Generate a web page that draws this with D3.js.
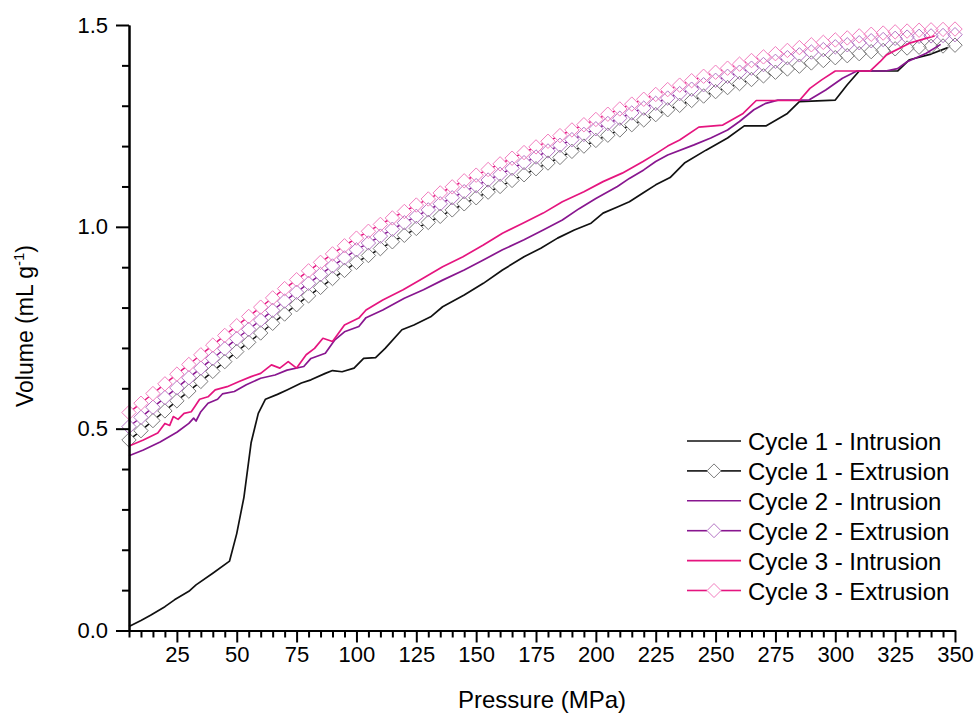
<!DOCTYPE html>
<html>
<head>
<meta charset="utf-8">
<script src="https://cdn.jsdelivr.net/npm/d3@7/dist/d3.min.js"></script>
<style>
  html, body { margin: 0; padding: 0; background: #fff; }
  svg { display: block; }
  text { font-family: "Liberation Sans", Arial, sans-serif; fill: #000; }
</style>
</head>
<body>
<svg id="chart" width="976" height="717"></svg>
<script>
// Pressure steps of the extrusion (depressurisation) branches, MPa
const extrusionPressure = [5, 10, 15, 20, 25, 30, 35, 40, 45, 50, 55, 60, 65, 70, 75, 80, 85, 90, 95, 100,
  105, 110, 115, 120, 125, 130, 135, 140, 145, 150, 155, 160, 165, 170, 175, 180, 185, 190, 195, 200,
  205, 210, 215, 220, 225, 230, 235, 240, 245, 250, 255, 260, 265, 270, 275, 280, 285, 290, 295, 300,
  305, 310, 315, 320, 325, 330, 335, 340, 345, 350];

// Extrusion volumes, mL/g
const cycle1Extrusion = [0.472, 0.495, 0.520, 0.544, 0.569, 0.593, 0.617, 0.642, 0.666, 0.691, 0.714, 0.737, 0.761, 0.784, 0.807, 0.829, 0.850, 0.872, 0.892, 0.912,
  0.929, 0.946, 0.963, 0.979, 0.996, 1.011, 1.026, 1.042, 1.057, 1.072, 1.086, 1.100, 1.115, 1.129, 1.144, 1.158, 1.172, 1.187, 1.200, 1.214,
  1.227, 1.240, 1.253, 1.265, 1.278, 1.290, 1.301, 1.313, 1.324, 1.335, 1.345, 1.355, 1.365, 1.374, 1.383, 1.391, 1.398, 1.406, 1.412, 1.419,
  1.424, 1.429, 1.434, 1.437, 1.441, 1.443, 1.445, 1.447, 1.448, 1.450];
const cycle2Extrusion = [0.505, 0.528, 0.553, 0.577, 0.601, 0.626, 0.650, 0.674, 0.698, 0.723, 0.746, 0.769, 0.793, 0.816, 0.838, 0.860, 0.882, 0.903, 0.923, 0.943,
  0.960, 0.977, 0.994, 1.010, 1.026, 1.042, 1.057, 1.072, 1.087, 1.102, 1.116, 1.130, 1.145, 1.159, 1.173, 1.188, 1.202, 1.216, 1.229, 1.243,
  1.256, 1.269, 1.282, 1.294, 1.306, 1.319, 1.330, 1.341, 1.352, 1.363, 1.373, 1.383, 1.393, 1.402, 1.410, 1.419, 1.426, 1.433, 1.439, 1.446,
  1.451, 1.456, 1.461, 1.464, 1.467, 1.470, 1.472, 1.473, 1.474, 1.476];
const cycle3Extrusion = [0.540, 0.563, 0.587, 0.611, 0.635, 0.659, 0.683, 0.707, 0.731, 0.755, 0.778, 0.801, 0.824, 0.847, 0.869, 0.891, 0.912, 0.933, 0.953, 0.972,
  0.989, 1.006, 1.022, 1.038, 1.054, 1.069, 1.084, 1.099, 1.114, 1.128, 1.142, 1.156, 1.170, 1.184, 1.198, 1.212, 1.226, 1.240, 1.253, 1.266,
  1.279, 1.292, 1.304, 1.316, 1.328, 1.340, 1.351, 1.362, 1.373, 1.383, 1.393, 1.403, 1.412, 1.421, 1.429, 1.437, 1.444, 1.451, 1.457, 1.463,
  1.468, 1.473, 1.477, 1.480, 1.483, 1.485, 1.487, 1.488, 1.489, 1.490];

// Intrusion branches: [pressure MPa, volume mL/g]
const cycle1Intrusion = [[5, 0.010], [10, 0.025], [14, 0.038], [20, 0.059], [24, 0.076], [30, 0.097], [33, 0.113], [40, 0.142], [47, 0.172],
  [50, 0.240], [53, 0.330], [56, 0.465], [59, 0.538], [62, 0.573], [67, 0.585], [71, 0.596], [77, 0.613], [81, 0.621], [87, 0.637],
  [90, 0.644], [94, 0.641], [99, 0.650], [103, 0.674], [108, 0.676], [112, 0.699], [119, 0.745], [124, 0.757], [131, 0.777], [136, 0.802],
  [145, 0.831], [153, 0.860], [161, 0.893], [170, 0.926], [177, 0.947], [184, 0.972], [191, 0.992], [198, 1.009], [203, 1.034], [209, 1.049],
  [214, 1.062], [220, 1.085], [225, 1.104], [231, 1.122], [237, 1.158], [246, 1.190], [255, 1.220], [262, 1.250], [271, 1.250], [280, 1.281],
  [285, 1.310], [300, 1.314], [305, 1.352], [310, 1.386], [326, 1.386], [331, 1.414], [340, 1.428], [347, 1.444]];
const cycle2Intrusion = [[5, 0.433], [11, 0.447], [18, 0.467], [25, 0.491], [30, 0.513], [32, 0.526], [33, 0.519], [35, 0.542], [38, 0.563],
  [42, 0.573], [44, 0.586], [49, 0.592], [54, 0.609], [60, 0.625], [66, 0.633], [71, 0.645], [78, 0.654], [81, 0.674], [87, 0.687],
  [91, 0.720], [95, 0.740], [101, 0.753], [104, 0.775], [111, 0.794], [120, 0.823], [128, 0.844], [136, 0.868], [145, 0.893], [153, 0.918],
  [161, 0.943], [170, 0.968], [178, 0.992], [186, 1.017], [193, 1.045], [200, 1.070], [209, 1.100], [214, 1.120], [220, 1.141], [225, 1.162],
  [230, 1.178], [241, 1.203], [248, 1.220], [255, 1.240], [260, 1.261], [266, 1.290], [271, 1.306], [276, 1.314], [289, 1.314], [296, 1.339],
  [303, 1.368], [309, 1.386], [321, 1.386], [326, 1.392], [330, 1.409], [335, 1.422], [338, 1.430], [344, 1.452]];
const cycle3Intrusion = [[5, 0.457], [11, 0.472], [17, 0.489], [20, 0.513], [22, 0.508], [23.5, 0.530], [25.5, 0.523], [28, 0.538], [31, 0.542],
  [32.5, 0.555], [34.5, 0.573], [38, 0.579], [41, 0.596], [46, 0.604], [51, 0.617], [56, 0.629], [60, 0.637], [64.5, 0.658], [68, 0.650],
  [71.5, 0.666], [75, 0.650], [79, 0.683], [82.5, 0.699], [86, 0.724], [90, 0.716], [95, 0.757], [101, 0.774], [104, 0.794], [111, 0.819],
  [119.5, 0.844], [128, 0.873], [136, 0.901], [144.5, 0.926], [153, 0.955], [161, 0.984], [169.5, 1.009], [178, 1.034], [186, 1.062], [195, 1.087],
  [203, 1.112], [211, 1.133], [219.7, 1.162], [225.3, 1.182], [230, 1.200], [235, 1.215], [243, 1.247], [253, 1.252], [261.5, 1.281], [267, 1.313],
  [285, 1.313], [289.4, 1.343], [294.3, 1.364], [300, 1.386], [314.5, 1.386], [318.7, 1.409], [321.4, 1.426], [331, 1.455], [341.5, 1.473]];

// Axis ticks
const xMajorTicks = [25, 50, 75, 100, 125, 150, 175, 200, 225, 250, 275, 300, 325, 350];
const xMinorTicks = [5, 10, 15, 20, 30, 35, 40, 45, 55, 60, 65, 70, 80, 85, 90, 95, 105, 110, 115, 120, 130, 135, 140, 145,
  155, 160, 165, 170, 180, 185, 190, 195, 205, 210, 215, 220, 230, 235, 240, 245, 255, 260, 265, 270, 280, 285, 290, 295,
  305, 310, 315, 320, 330, 335, 340, 345];
const yMajorTicks = [0, 0.5, 1.0, 1.5];
const yMinorTicks = [0.1, 0.2, 0.3, 0.4, 0.6, 0.7, 0.8, 0.9, 1.1, 1.2, 1.3, 1.4];

const seriesNames = ["Cycle 1 - Intrusion", "Cycle 1 - Extrusion", "Cycle 2 - Intrusion",
  "Cycle 2 - Extrusion", "Cycle 3 - Intrusion", "Cycle 3 - Extrusion"];

const svg = d3.select("#chart");
const x = d3.scaleLinear().domain([5, 350]).range([129, 955]);
const y = d3.scaleLinear().domain([0, 1.5]).range([630.5, 25]);

const colors = {
  c1: { line: "#111111", sym: "#7a7a7a" },
  c2: { line: "#88168f", sym: "#b474c4" },
  c3: { line: "#e5157f", sym: "#f27cbe" }
};

const R = 7.2; // diamond half-diagonal, px
const diamond = r => `M0,${-r}L${r},0L0,${r}L${-r},0Z`;
const line = d3.line().x(d => x(d[0])).y(d => y(d[1]));

const series = [
  { type: "line", data: cycle1Intrusion, c: colors.c1 },
  { type: "sym", values: cycle1Extrusion, c: colors.c1 },
  { type: "line", data: cycle2Intrusion, c: colors.c2 },
  { type: "sym", values: cycle2Extrusion, c: colors.c2 },
  { type: "line", data: cycle3Intrusion, c: colors.c3 },
  { type: "sym", values: cycle3Extrusion, c: colors.c3 }
];

const plot = svg.append("g");
series.forEach(s => {
  if (s.type === "line") {
    plot.append("path").datum(s.data)
      .attr("d", line).attr("fill", "none")
      .attr("stroke", s.c.line).attr("stroke-width", 1.7)
      .attr("stroke-linejoin", "round");
  } else {
    const pts = extrusionPressure.map((p, i) => [x(p), y(s.values[i])]);
    // connecting line, broken where it passes through a symbol
    const segs = [];
    for (let i = 0; i < pts.length - 1; i++) {
      const [x0, y0] = pts[i], [x1, y1] = pts[i + 1];
      const len = Math.hypot(x1 - x0, y1 - y0);
      const ux = (x1 - x0) / len, uy = (y1 - y0) / len;
      const edge = R / (Math.abs(ux) + Math.abs(uy));
      if (len > 2 * edge) {
        segs.push([[x0 + ux * edge, y0 + uy * edge], [x1 - ux * edge, y1 - uy * edge]]);
      }
    }
    plot.append("g").selectAll("line").data(segs).join("line")
      .attr("x1", d => d[0][0]).attr("y1", d => d[0][1])
      .attr("x2", d => d[1][0]).attr("y2", d => d[1][1])
      .attr("stroke", s.c.line).attr("stroke-width", 1.5);
    plot.append("g").selectAll("path").data(pts).join("path")
      .attr("transform", d => `translate(${d[0]},${d[1]})`)
      .attr("d", diamond(R))
      .attr("fill", "none").attr("stroke", s.c.sym).attr("stroke-width", 1);
  }
});

// Axes
function styleAxis(g) {
  g.selectAll("path.domain").attr("stroke", "#000").attr("stroke-width", 2);
  g.selectAll(".tick line").attr("stroke", "#000").attr("stroke-width", 2);
  g.selectAll(".tick text").style("font-family", '"Liberation Sans", Arial, sans-serif')
    .style("font-size", "22px").attr("fill", "#000");
}

const xAxisMinor = d3.axisBottom(x).tickValues(xMinorTicks).tickSize(7).tickSizeOuter(0).tickFormat("");
const xAxisMajor = d3.axisBottom(x).tickValues(xMajorTicks).tickSize(12).tickSizeOuter(0).tickPadding(4).tickFormat(d3.format("d"));
svg.append("g").attr("transform", "translate(0,630.5)").call(xAxisMinor).call(styleAxis);
svg.append("g").attr("transform", "translate(0,630.5)").call(xAxisMajor).call(styleAxis);

const yAxisMinor = d3.axisLeft(y).tickValues(yMinorTicks).tickSize(7).tickSizeOuter(0).tickFormat("");
const yAxisMajor = d3.axisLeft(y).tickValues(yMajorTicks).tickSize(13).tickSizeOuter(0).tickPadding(8).tickFormat(d3.format(".1f"));
svg.append("g").attr("transform", "translate(129,0)").call(yAxisMinor).call(styleAxis);
svg.append("g").attr("transform", "translate(129,0)").call(yAxisMajor).call(styleAxis);

// Axis titles
svg.append("text").attr("x", (x(5) + x(350)) / 2).attr("y", 708)
  .attr("text-anchor", "middle").style("font-size", "24px").text("Pressure (MPa)");

const yTitle = svg.append("text")
  .attr("transform", "translate(33,326) rotate(-90)")
  .attr("text-anchor", "middle").style("font-size", "23px");
yTitle.append("tspan").text("Volume (mL g");
yTitle.append("tspan").attr("dy", -9).style("font-size", "15px").text("-1");
yTitle.append("tspan").attr("dy", 9).text(")");

// Legend
const legend = svg.append("g").attr("transform", "translate(687,441)");
const legendColors = [colors.c1, colors.c1, colors.c2, colors.c2, colors.c3, colors.c3];
seriesNames.forEach((name, i) => {
  const row = legend.append("g").attr("transform", `translate(0,${i * 29.9})`);
  const c = legendColors[i];
  if (i % 2 === 0) {
    row.append("line").attr("x1", 0).attr("x2", 54).attr("y1", 0).attr("y2", 0)
      .attr("stroke", c.line).attr("stroke-width", 1.6);
  } else {
    row.append("line").attr("x1", 0).attr("x2", 20).attr("y1", 0).attr("y2", 0)
      .attr("stroke", c.line).attr("stroke-width", 1.6);
    row.append("line").attr("x1", 34).attr("x2", 54).attr("y1", 0).attr("y2", 0)
      .attr("stroke", c.line).attr("stroke-width", 1.6);
    row.append("path").attr("d", diamond(7)).attr("transform", "translate(27,0)")
      .attr("fill", "#fff").attr("stroke", c.sym).attr("stroke-width", 1);
  }
  row.append("text").attr("x", 61).attr("y", 9).style("font-size", "24px").text(name);
});
</script>
</body>
</html>
